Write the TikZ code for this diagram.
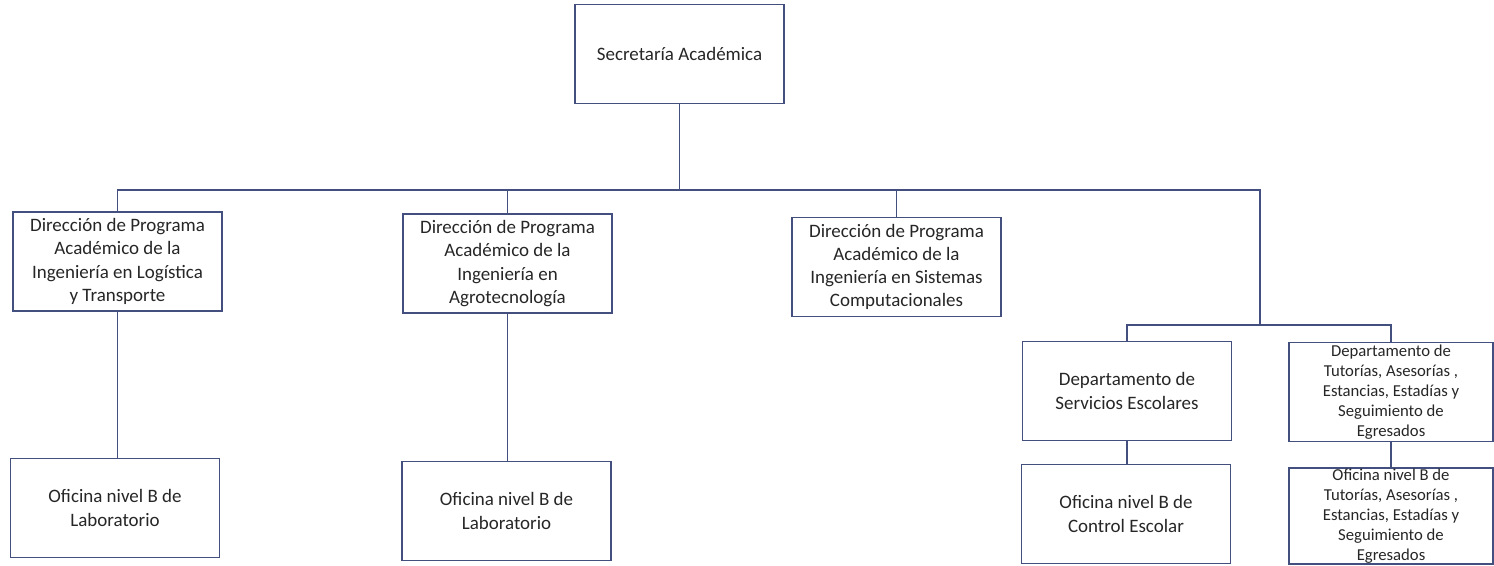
\documentclass[tikz,border=0pt]{standalone}
\usepackage{fontspec}
\setmainfont{Carlito}
\usetikzlibrary{positioning}
\definecolor{lineablue}{HTML}{43507F}
\definecolor{textogris}{HTML}{262626}

\tikzset{
  unidad/.style={draw=lineablue, line width=0.9pt, align=center, text=textogris,
    minimum width=4.18cm, minimum height=1.98cm, inner sep=2pt,
    font=\fontsize{10.8}{13.2}\selectfont},
  unidadchica/.style={unidad, inner ysep=0pt, font=\fontsize{9.5}{11.4}\selectfont},
  enlace/.style={draw=lineablue, line width=0.9pt}
}

\begin{document}
\begin{tikzpicture}[x=0.02cm, y=-0.02cm]
\useasboundingbox (0,0) rectangle (1494,565);

% Top level
\node[unidad] (sec) at (679.5,54) {Secretaría Académica};

% Program directions
\node[unidad] (dlog) at (117.5,261.5) {Dirección de Programa\\Académico de la\\Ingeniería en Logística\\y Transporte};
\node[unidad] (dagro) at (507.5,263.5) {Dirección de Programa\\Académico de la\\Ingeniería en\\Agrotecnología};
\node[unidad] (dsis) at (896.5,267) {Dirección de Programa\\Académico de la\\Ingeniería en Sistemas\\Computacionales};

% Departments
\node[unidad] (dserv) at (1127,391) {Departamento de\\Servicios Escolares};
\node[unidadchica, minimum width=4.08cm] (dtut) at (1391,392) {Departamento de\\Tutorías, Asesorías ,\\Estancias, Estadías y\\Seguimiento de\\Egresados};

% Offices
\node[unidad] (olog) at (115,508) {Oficina nivel B de\\Laboratorio};
\node[unidad] (oagro) at (506.5,511) {Oficina nivel B de\\Laboratorio};
\node[unidad] (oserv) at (1126,514) {Oficina nivel B de\\Control Escolar};
\node[unidadchica, minimum width=4.08cm, minimum height=1.92cm] (otut) at (1391,516) {Oficina nivel B de\\Tutorías, Asesorías ,\\Estancias, Estadías y\\Seguimiento de\\Egresados};

% Buses
\coordinate (bus) at (679.5,190);
\coordinate (subbus) at (1260,325);

% Connectors
\draw[enlace] (sec.south) -- (bus);
\draw[enlace] (dlog.north) |- (bus);
\draw[enlace] (dagro.north) |- (bus);
\draw[enlace] (dsis.north) |- (bus);
\draw[enlace] (bus) -| (subbus);
\draw[enlace] (dserv.north) |- (subbus) -| (dtut.north);

\draw[enlace] (dlog.south) -- (dlog.south |- olog.north);
\draw[enlace] (dagro.south) -- (dagro.south |- oagro.north);
\draw[enlace] (dserv.south) -- (dserv.south |- oserv.north);
\draw[enlace] (dtut.south) -- (dtut.south |- otut.north);

\end{tikzpicture}
\end{document}
